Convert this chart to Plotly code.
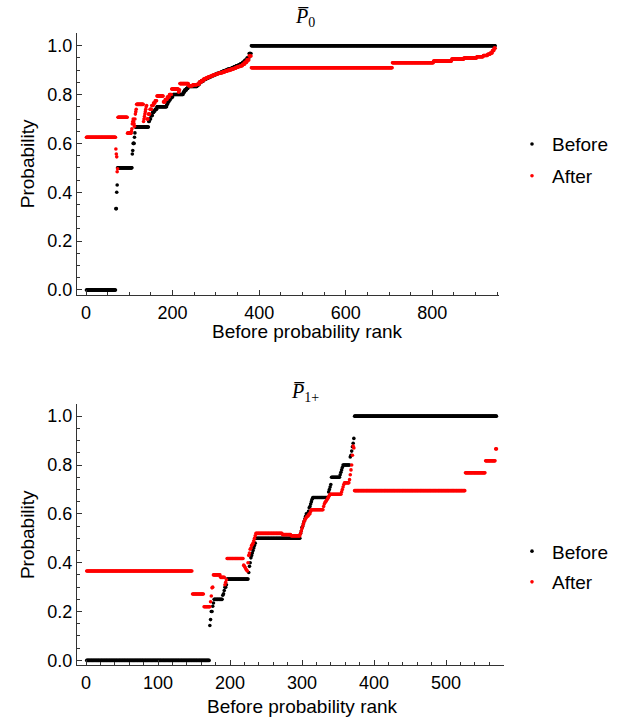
import numpy as np
import plotly.graph_objects as go

# ---------------- data (run-length encoded values) -------------
# Top panel  (P0): values and how many consecutive ranks share each value
top_before_vals = [0.0, 0.333, 0.40, 0.43, 0.5, 0.557, 0.571, 0.6, 0.625, 0.643, 0.667,
                   0.69, 0.70, 0.714, 0.727, 0.733, 0.74, 0.75,
                   0.76, 0.77, 0.778, 0.786, 0.79, 0.8, 0.81, 0.818, 0.825, 0.833,
                   0.840, 0.850, 0.856, 0.862, 0.866, 0.870, 0.874, 0.878, 0.882, 0.886,
                   0.889, 0.892, 0.896, 0.899, 0.903, 0.906, 0.910, 0.914, 0.918, 0.921,
                   0.926, 0.932, 0.940, 0.950, 0.968, 1.0]
top_before_lens = [68, 2, 1, 1, 34, 1, 1, 3, 1, 1, 31,
                   2, 3, 4, 3, 3, 4, 23,
                   2, 3, 3, 3, 3, 24, 3, 4, 4, 21,
                   5, 5, 5, 5, 5, 5, 5, 5, 5, 5,
                   5, 5, 5, 5, 5, 5, 5, 5, 5, 5,
                   5, 5, 5, 5, 5, 564]

top_after_vals = [0.625, 0.577, 0.557, 0.545, 0.484, 0.496, 0.707, 0.642,
                  0.65, 0.66, 0.68, 0.69,
                  0.70, 0.69, 0.68, 0.67, 0.70, 0.72, 0.73, 0.74, 0.76,
                  0.69, 0.70, 0.71, 0.72, 0.73, 0.74, 0.75, 0.755,
                  0.70, 0.72, 0.74, 0.755, 0.765, 0.775, 0.794,
                  0.77, 0.78, 0.79, 0.80, 0.823, 0.81, 0.815, 0.82, 0.845, 0.836, 0.84,
                  0.842, 0.851, 0.857, 0.864, 0.868, 0.872, 0.875, 0.879, 0.882, 0.885,
                  0.888, 0.890, 0.893, 0.896, 0.899, 0.902, 0.905, 0.908, 0.912, 0.915,
                  0.918, 0.924, 0.932, 0.942, 0.958,
                  0.91, 0.93, 0.937, 0.945, 0.95, 0.955, 0.96, 0.965, 0.97, 0.98, 0.99]
top_after_lens = [68, 1, 1, 1, 1, 1, 22, 9,
                  1, 1, 1, 1,
                  1, 1, 1, 1, 1, 1, 1, 1, 16,
                  1, 1, 1, 1, 1, 1, 1, 1,
                  3, 4, 4, 4, 4, 4, 15,
                  4, 5, 5, 5, 16, 1, 1, 1, 20, 10, 10,
                  5, 5, 5, 5, 5, 5, 5, 5, 5, 5,
                  5, 5, 5, 5, 5, 5, 5, 5, 5, 5,
                  5, 5, 5, 5, 5,
                  326, 95, 42, 28, 30, 15, 10, 6, 5, 4, 3]

# Bottom panel (P1+)
bot_before_vals = [0.0, 0.143, 0.167, 0.2, 0.222, 0.235, 0.25,
                   0.267, 0.273, 0.286, 0.3, 0.31, 0.333,
                   0.36, 0.385, 0.4, 0.42, 0.43, 0.44, 0.45, 0.46, 0.47, 0.48, 0.5,
                   0.52, 0.53, 0.545, 0.55, 0.56, 0.57, 0.58, 0.59, 0.6, 0.61, 0.625,
                   0.63, 0.64, 0.65, 0.66, 0.667,
                   0.69, 0.70, 0.71, 0.72, 0.75, 0.76, 0.77, 0.78, 0.79, 0.8,
                   0.833, 0.84, 0.857, 0.875, 0.889, 0.909, 1.0]
bot_before_lens = [171, 1, 1, 2, 1, 1, 12,
                   1, 1, 1, 2, 1, 30,
                   1, 1, 1, 1, 1, 1, 1, 1, 1, 1, 62,
                   1, 1, 1, 1, 1, 1, 1, 1, 3, 1, 1,
                   1, 1, 1, 1, 22,
                   1, 1, 1, 1, 12, 1, 1, 1, 1, 10,
                   1, 1, 1, 1, 1, 1, 198]

bot_after_vals = [0.366, 0.272, 0.22, 0.24, 0.264, 0.297, 0.30, 0.35, 0.34,
                  0.31, 0.32, 0.33, 0.417,
                  0.39, 0.386, 0.38, 0.374, 0.37, 0.366,
                  0.40, 0.43, 0.44, 0.455, 0.46, 0.47, 0.475, 0.48, 0.49, 0.5, 0.51,
                  0.52, 0.515, 0.51,
                  0.52, 0.53, 0.54, 0.55, 0.56, 0.57, 0.575, 0.58, 0.585, 0.59, 0.595, 0.6, 0.61,
                  0.617,
                  0.63, 0.64, 0.647, 0.65, 0.655, 0.66, 0.665, 0.67, 0.675, 0.68,
                  0.69, 0.70, 0.71, 0.72, 0.727,
                  0.74, 0.76, 0.78, 0.8, 0.84, 0.878, 0.87,
                  0.695, 0.768, 0.817, 0.866]
bot_after_lens = [147, 16, 9, 1, 1, 1, 1, 10, 6,
                  1, 1, 1, 23,
                  1, 1, 1, 1, 1, 1,
                  1, 1, 1, 1, 1, 1, 1, 1, 1, 1, 1,
                  37, 12, 13,
                  1, 1, 1, 1, 1, 1, 1, 1, 1, 2, 1, 2, 1,
                  17,
                  1, 1, 1, 1, 1, 1, 1, 1, 1, 16,
                  1, 1, 1, 1, 7,
                  1, 1, 1, 1, 1, 1, 1,
                  154, 28, 14, 2]

series_names = ["Before", "After"]
series_colors = ["black", "red"]
panel_titles = ["<i>P&#773;</i><sub>0</sub>", "<i>P&#773;</i><sub>1+</sub>"]
x_label = "Before probability rank"
y_label = "Probability"


def expand(vals, lens):
    y = np.repeat(np.array(vals, dtype=float), np.array(lens))
    x = np.arange(1, len(y) + 1)
    return x, y


W, H = 622, 723
fig = go.Figure()

panels = [
    dict(data=[(top_before_vals, top_before_lens), (top_after_vals, top_after_lens)],
         xaxis="x", yaxis="y", legend="legend"),
    dict(data=[(bot_before_vals, bot_before_lens), (bot_after_vals, bot_after_lens)],
         xaxis="x2", yaxis="y2", legend="legend2"),
]
for p in panels:
    for k, (vals, lens) in enumerate(p["data"]):
        x, y = expand(vals, lens)
        fig.add_trace(go.Scatter(
            x=x, y=y, mode="markers", name=series_names[k],
            marker=dict(color=series_colors[k], size=3.6, line=dict(width=0)),
            xaxis=p["xaxis"], yaxis=p["yaxis"], legend=p["legend"],
            legendgroup=p["legend"] + series_names[k],
        ))

font = dict(family="Liberation Sans, Arial, sans-serif", size=19, color="black")
tick_font = dict(family="Liberation Sans, Arial, sans-serif", size=18, color="black")
axis_common = dict(
    showline=True, linecolor="#333", linewidth=1, mirror=False,
    ticks="inside", ticklen=5, tickcolor="#333", tickwidth=1,
    showgrid=False, zeroline=False, tickfont=tick_font,
)


def px_x(p):
    return p / W


def px_y(p):
    return 1 - p / H


title_font = dict(family="Liberation Serif, serif", size=20, color="black")

fig.update_layout(
    width=W, height=H, margin=dict(l=0, r=0, t=0, b=0),
    paper_bgcolor="white", plot_bgcolor="white", font=font,
    xaxis=dict(axis_common, domain=[px_x(77), px_x(499)], range=[-20.8, 954],
               dtick=200, tick0=0, anchor="y", ticklabelstandoff=1,
               minor=dict(dtick=50, ticks="inside", ticklen=3, tickcolor="#333")),
    yaxis=dict(axis_common, domain=[px_y(297), px_y(33)], range=[-0.0203, 1.053],
               dtick=0.2, tick0=0, tickformat=".1f", anchor="x",
               minor=dict(dtick=0.05, ticks="inside", ticklen=3, tickcolor="#333"),
               title=dict(text=y_label, font=font, standoff=7)),
    xaxis2=dict(axis_common, domain=[px_x(77), px_x(504)], range=[-12.5, 580.5],
                dtick=100, tick0=0, anchor="y2", ticklabelstandoff=1,
                minor=dict(dtick=20, ticks="inside", ticklen=3, tickcolor="#333")),
    yaxis2=dict(axis_common, domain=[px_y(670), px_y(407)], range=[-0.0203, 1.049],
                dtick=0.2, tick0=0, tickformat=".1f", anchor="x2",
                minor=dict(dtick=0.05, ticks="inside", ticklen=3, tickcolor="#333"),
                title=dict(text=y_label, font=font, standoff=7)),
    legend=dict(x=px_x(512), y=px_y(126), xanchor="left", yanchor="top",
                font=font, tracegroupgap=4, bgcolor="rgba(0,0,0,0)"),
    legend2=dict(x=px_x(512), y=px_y(536), xanchor="left", yanchor="top",
                 font=font, tracegroupgap=3, bgcolor="rgba(0,0,0,0)"),
    annotations=[
        dict(text=panel_titles[0], x=px_x(305), y=px_y(18), xref="paper", yref="paper",
             yanchor="middle", showarrow=False, font=title_font),
        dict(text=panel_titles[1], x=px_x(305), y=px_y(395), xref="paper", yref="paper",
             yanchor="middle", showarrow=False, font=title_font),
        dict(text=x_label, x=px_x(307), y=px_y(334), xref="paper", yref="paper",
             xanchor="center", yanchor="middle", showarrow=False, font=font),
        dict(text=x_label, x=px_x(302), y=px_y(711), xref="paper", yref="paper",
             xanchor="center", yanchor="middle", showarrow=False, font=font),
    ],
)

fig.write_html("out.html")
